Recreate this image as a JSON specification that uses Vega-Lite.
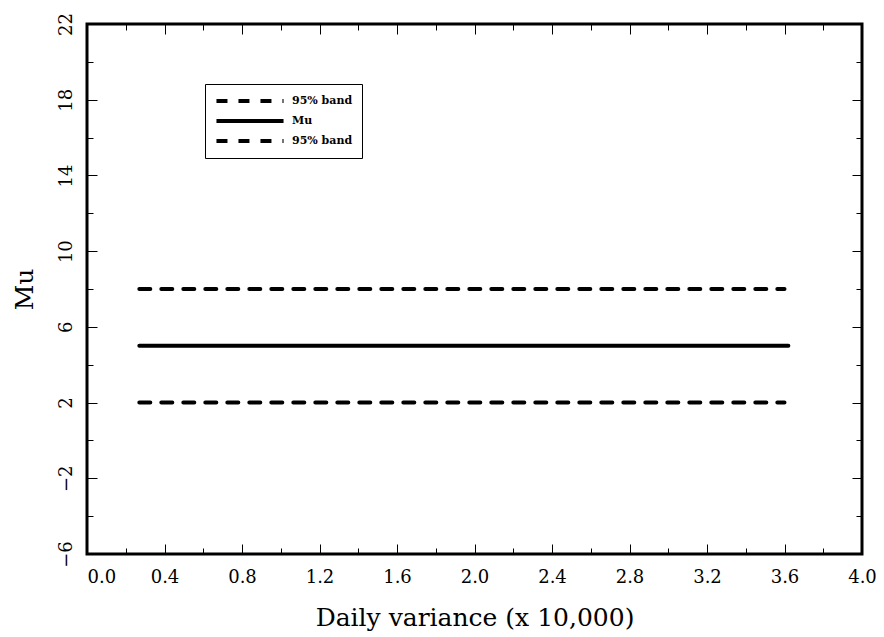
{
  "$schema": "https://vega.github.io/schema/vega-lite/v6.json",
  "width": 775,
  "height": 530,
  "autosize": {"type": "none"},
  "padding": {"left": 87, "top": 24, "right": 22, "bottom": 83},
  "background": "white",
  "config": {
    "view": {"stroke": "black", "strokeWidth": 3},
    "axis": {
      "domain": false,
      "grid": false,
      "ticks": true,
      "tickColor": "black",
      "tickWidth": 1,
      "labelFont": "DejaVu Serif",
      "labelFontSize": 18,
      "labelColor": "black",
      "titleFont": "DejaVu Serif",
      "titleFontSize": 25,
      "titleFontWeight": "normal",
      "titleColor": "black"
    }
  },
  "data": {
    "values": [
      {"series": "upper", "x": 0.27, "y": 8},
      {"series": "upper", "x": 3.6, "y": 8},
      {"series": "mu", "x": 0.27, "y": 5},
      {"series": "mu", "x": 3.62, "y": 5},
      {"series": "lower", "x": 0.27, "y": 2},
      {"series": "lower", "x": 3.6, "y": 2}
    ]
  },
  "layer": [
    {
      "mark": {"type": "line", "strokeWidth": 4, "strokeCap": "round", "color": "black"},
      "encoding": {
        "x": {
          "field": "x",
          "type": "quantitative",
          "scale": {"domain": [0, 4], "nice": false, "zero": false},
          "axis": {
            "orient": "bottom",
            "title": "Daily variance (x 10,000)",
            "values": [0, 0.2, 0.4, 0.6, 0.8, 1.0, 1.2, 1.4, 1.6, 1.8, 2.0, 2.2, 2.4, 2.6, 2.8, 3.0, 3.2, 3.4, 3.6, 3.8, 4.0],
            "format": ".1f",
            "labelExpr": "round(datum.value*10)%4==0 ? datum.label : ''",
            "tickSize": {"condition": {"test": "round(datum.value*10)%4==0", "value": -10}, "value": -6},
            "labelAlign": {"condition": {"test": "datum.value==0", "value": "left"}, "value": "center"},
            "labelPadding": 24,
            "titlePadding": 19
          }
        },
        "y": {
          "field": "y",
          "type": "quantitative",
          "scale": {"domain": [-6, 22], "nice": false, "zero": false},
          "axis": {
            "orient": "left",
            "title": "Mu",
            "values": [-6, -4, -2, 0, 2, 4, 6, 8, 10, 12, 14, 16, 18, 20, 22],
            "labelExpr": "(datum.value+6)%4==0 ? datum.label : ''",
            "tickSize": {"condition": {"test": "(datum.value+6)%4==0", "value": -10}, "value": -6},
            "labelAngle": 270,
            "labelAlign": "center",
            "labelBaseline": "bottom",
            "labelPadding": 22,
            "titlePadding": 20
          }
        },
        "strokeDash": {
          "field": "series",
          "type": "nominal",
          "scale": {"domain": ["upper", "mu", "lower"], "range": [[11, 11], [1, 0], [11, 11]]},
          "legend": {
            "orient": "none",
            "legendX": 118,
            "legendY": 60,
            "title": null,
            "symbolType": "stroke",
            "symbolSize": 4500,
            "symbolStrokeWidth": 4,
            "symbolStrokeColor": "black",
            "clipHeight": 16,
            "labelExpr": "datum.value=='mu' ? 'Mu' : '95% band'",
            "labelFont": "DejaVu Serif",
            "labelFontWeight": "bold",
            "labelFontSize": 11,
            "labelColor": "black",
            "labelOffset": 6,
            "strokeColor": "black",
            "fillColor": "white",
            "padding": 9,
            "rowPadding": 4
          }
        }
      }
    },
    {
      "mark": {"type": "point", "opacity": 0},
      "encoding": {
        "x": {
          "field": "x",
          "type": "quantitative",
          "axis": {
            "orient": "top",
            "title": null,
            "labels": false,
            "values": [0, 0.2, 0.4, 0.6, 0.8, 1.0, 1.2, 1.4, 1.6, 1.8, 2.0, 2.2, 2.4, 2.6, 2.8, 3.0, 3.2, 3.4, 3.6, 3.8, 4.0],
            "tickSize": {"condition": {"test": "round(datum.value*10)%4==0", "value": -10}, "value": -6}
          }
        },
        "y": {
          "field": "y",
          "type": "quantitative",
          "axis": {
            "orient": "right",
            "title": null,
            "labels": false,
            "values": [-6, -4, -2, 0, 2, 4, 6, 8, 10, 12, 14, 16, 18, 20, 22],
            "tickSize": {"condition": {"test": "(datum.value+6)%4==0", "value": -10}, "value": -6}
          }
        }
      }
    }
  ],
  "resolve": {"axis": {"x": "independent", "y": "independent"}}
}
